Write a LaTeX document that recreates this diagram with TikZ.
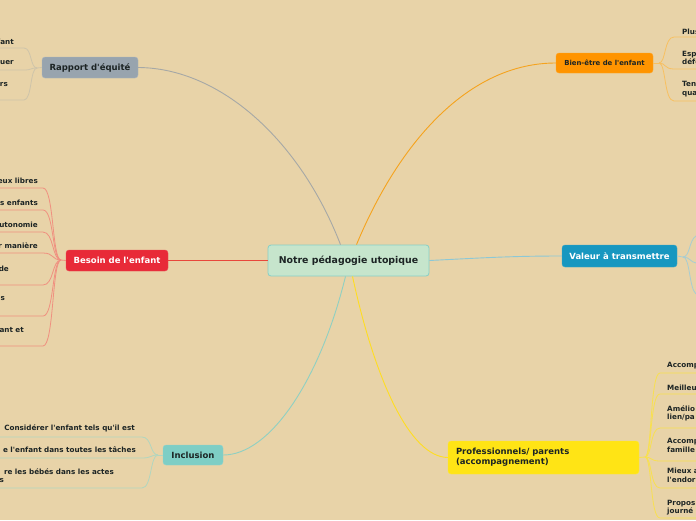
\documentclass[tikz,border=0pt]{standalone}
\usepackage{fontspec}
\setmainfont{DejaVu Sans}[Ligatures=TeXOff]
\newcommand{\apos}{'}
\definecolor{bg}{HTML}{E8D3A8}
\definecolor{txt}{HTML}{1C2424}
\definecolor{cfill}{HTML}{C6E5CC}
\definecolor{cbord}{HTML}{86CFC7}
\definecolor{rapfill}{HTML}{98A4AE}
\definecolor{besfill}{HTML}{E82A38}
\definecolor{incfill}{HTML}{7ECEC5}
\definecolor{bienfill}{HTML}{FF9400}
\definecolor{valfill}{HTML}{1797C0}
\definecolor{proffill}{HTML}{FFE415}
\definecolor{lgrey}{HTML}{A6A8A6}
\definecolor{lorange}{HTML}{F5A31E}
\definecolor{lred}{HTML}{E8473B}
\definecolor{lblue}{HTML}{8CC8D6}
\definecolor{lteal}{HTML}{8FD0C2}
\definecolor{lyellow}{HTML}{FFDD22}
\definecolor{sgrey}{HTML}{CEC4AA}
\definecolor{sred}{HTML}{F09080}
\definecolor{sorange}{HTML}{F8C060}
\definecolor{sblue}{HTML}{A7CDD3}
\definecolor{syellow}{HTML}{F8E050}
\definecolor{steal}{HTML}{B0D6C0}
\tikzset{
  branch/.style={rectangle, rounded corners=3pt, inner sep=0pt, font=\fontsize{8.5}{10}\selectfont\bfseries, text=txt},
  leafL/.style={anchor=east, inner sep=0pt, font=\fontsize{7.2}{8.6}\selectfont\bfseries, text=txt},
  leafR/.style={anchor=west, inner sep=0pt, font=\fontsize{7.2}{8.6}\selectfont\bfseries, text=txt},
  conn/.style={line width=0.9pt},
  sub/.style={line width=0.8pt},
}
\begin{document}
\begin{tikzpicture}[x=1pt,y=-1pt]
\fill[bg] (0,0) rectangle (696,520);
\useasboundingbox (0,0) rectangle (696,520);

% main nodes
\node[branch, fill=cfill, draw=cbord, line width=0.8pt, minimum width=161pt, minimum height=31pt, font=\fontsize{9.4}{11}\selectfont\bfseries] (c) at (348.5,260.5) {Notre pédagogie utopique};
\node[branch, fill=rapfill, draw=rapfill!80!white, minimum width=96pt, minimum height=21pt] (rap) at (90,67.5) {Rapport d\apos équité};
\node[branch, fill=besfill, draw=besfill!85!white, minimum width=102pt, minimum height=21pt, text=white] (bes) at (117,260.5) {Besoin de l\apos enfant};
\node[branch, fill=incfill, draw=incfill!85!white, minimum width=60pt, minimum height=20pt] (inc) at (193,455) {Inclusion};
\node[branch, fill=bienfill, draw=bienfill!85!white, minimum width=97pt, minimum height=20pt, font=\fontsize{6.9}{8}\selectfont\bfseries] (bien) at (604.5,63) {Bien-être de l\apos enfant};
\node[branch, fill=valfill, draw=valfill!85!white, minimum width=115pt, minimum height=22pt, text=white] (val) at (619.5,256) {Valeur à transmettre};
\node[branch, fill=proffill, draw=proffill!85!white, minimum width=191pt, minimum height=33pt, align=left, text width=175pt] (prof) at (543.5,457.5) {Professionnels/ parents\\(accompagnement)};

% connectors from centre
\draw[conn, lgrey] ([xshift=-8pt]c.north) .. controls (300,140) and (220,68) .. (rap.east);
\draw[conn, lorange] ([xshift=8pt]c.north) .. controls (400,140) and (470,63) .. (bien.west);
\draw[conn, lred] (c.west) -- (bes.east);
\draw[conn, lblue] (c.east) .. controls (480,258) and (510,256) .. (val.west);
\draw[conn, lteal] ([xshift=-3pt]c.south) .. controls (320,380) and (270,455) .. (inc.east);
\draw[conn, lyellow] ([xshift=4pt]c.south) .. controls (375,380) and (410,457) .. (prof.west);

% Rapport d'equite leaves
\coordinate (rapJ) at (37,68);
\draw[sub, sgrey] (rap.west) -- (rapJ);
\node[leafL] (r1) at (14,41.5) {fant};
\node[leafL] (r2) at (14,63) {uer};
\node[leafL] (r3) at (8,85) {rs};
\foreach \y in {48,70,100} {
  \draw[sub, sgrey] (rapJ) .. controls (30,68) and (32,\y) .. (24,\y) -- (0,\y);
}

% Besoin de l'enfant leaves
\coordinate (besJ) at (61,260);
\draw[sub, sred] (bes.west) -- (besJ);
\node[leafL] (b1) at (38,180.5) {eux libres};
\node[leafL] (b2) at (38,202.5) {s enfants};
\node[leafL] (b3) at (38,224.5) {utonomie};
\node[leafL] (b4) at (38,246) {r manière};
\node[leafL] (b5) at (9,268.5) {de};
\node[leafL] (b6) at (5,298.5) {s};
\node[leafL] (b7) at (24,330) {ant et};
\foreach \y in {188,210,232,253,285,316,346} {
  \draw[sub, sred] (besJ) .. controls (52,260) and (54,\y) .. (43,\y) -- (0,\y);
}

% Inclusion leaves
\coordinate (incJ) at (158,455);
\draw[sub, steal] (inc.west) -- (incJ);
\node[leafL] (i1) at (135,428.5) {Considérer l\apos enfant tels qu\apos il est};
\node[leafL] (i2) at (136,450) {e l\apos enfant dans toutes les tâches};
\node[leafL] (i3) at (114,472) {re les bébés dans les actes};
\node[leafL] (i4) at (4,481) {s};
\foreach \y in {437,458,488} {
  \draw[sub, steal] (incJ) .. controls (150,455) and (152,\y) .. (142,\y) -- (0,\y);
}

% Bien-etre leaves
\coordinate (bienJ) at (659,63);
\draw[sub, sorange] (bien.east) -- (bienJ);
\node[leafR] (w1) at (682,32) {Plus};
\node[leafR, align=left] (w2) at (682,58) {Esp\\défe};
\node[leafR, align=left] (w3) at (682,89) {Ten\\qua};
\foreach \y in {37,69,101} {
  \draw[sub, sorange] (bienJ) .. controls (666,63) and (664,\y) .. (674,\y) -- (696,\y);
}

% Valeur leaves
\coordinate (valJ) at (683,257);
\draw[sub, sblue] (val.east) -- (valJ);
\draw[sub, sblue] (valJ) .. controls (690,257) and (689,240) .. (696,236);
\draw[sub, sblue] (valJ) .. controls (690,257) and (690,262) .. (696,263);
\draw[sub, sblue] (valJ) .. controls (690,257) and (689,288) .. (696,294);

% Professionnels leaves
\coordinate (profJ) at (645,457);
\draw[sub, syellow] (prof.east) -- (profJ);
\node[leafR] (p1) at (667,366) {Accomp};
\node[leafR] (p2) at (667,387.5) {Meilleu};
\node[leafR, align=left] (p3) at (667,413.5) {Amélio\\lien/pa};
\node[leafR, align=left] (p4) at (667,445.5) {Accomp\\famille};
\node[leafR, align=left] (p5) at (667,475.5) {Mieux a\\l\apos endor};
\node[leafR, align=left] (p6) at (667,507.5) {Propos\\journé};
\foreach \y in {373,394,428,461,488,518} {
  \draw[sub, syellow] (profJ) .. controls (652,457) and (650,\y) .. (660,\y) -- (696,\y);
}
\end{tikzpicture}
\end{document}
